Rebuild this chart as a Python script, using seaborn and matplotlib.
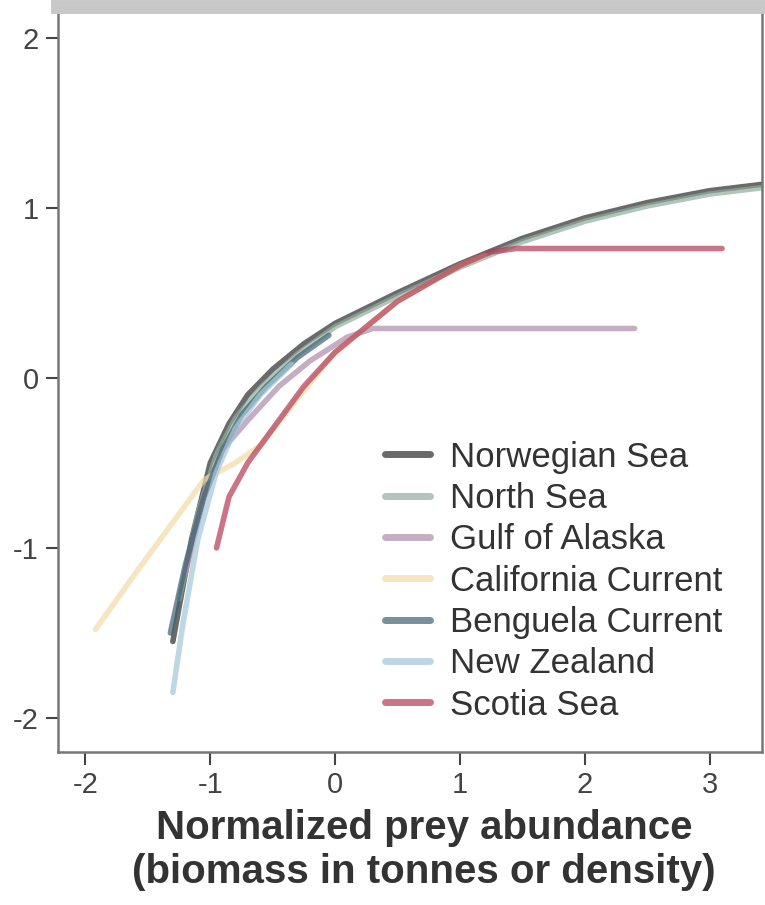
import numpy as np
import pandas as pd
import matplotlib
matplotlib.use("Agg")
import matplotlib.pyplot as plt
import seaborn as sns

sns.set_theme(style="white")
plt.rcParams["font.family"] = ["Liberation Sans", "DejaVu Sans"]
plt.rcParams["axes.unicode_minus"] = False

# Datos
regions = ["Norwegian Sea", "North Sea", "Gulf of Alaska", "California Current",
           "Benguela Current", "New Zealand", "Scotia Sea"]
colors = ["#2b2b2b", "#8fae9e", "#ad8cab", "#f1dba6", "#3f6171", "#a2c6da", "#b23a55"]

norwegian_x = [-1.3, -1.15, -1.0, -0.85, -0.7, -0.5, -0.25, 0.0, 0.5, 1.0, 1.5, 2.0, 2.5, 3.0, 3.45]
norwegian_y = [-1.55, -0.95, -0.5, -0.27, -0.1, 0.05, 0.2, 0.32, 0.5, 0.67, 0.82, 0.94, 1.03, 1.1, 1.14]

northsea_x = [-1.25, -1.1, -0.95, -0.8, -0.6, -0.3, 0.0, 0.5, 1.0, 1.5, 2.0, 2.5, 3.0, 3.45]
northsea_y = [-1.3, -0.8, -0.45, -0.24, -0.06, 0.14, 0.3, 0.48, 0.65, 0.8, 0.92, 1.01, 1.08, 1.12]

alaska_x = [-1.2, -1.05, -0.9, -0.7, -0.45, -0.2, 0.1, 0.3, 1.0, 2.0, 2.4]
alaska_y = [-1.15, -0.7, -0.42, -0.25, -0.05, 0.1, 0.24, 0.29, 0.29, 0.29, 0.29]

california_x = [-1.92, -1.6, -1.3, -1.05, -0.8, -0.6, -0.3, 0.0, 0.5, 1.0, 1.2]
california_y = [-1.48, -1.15, -0.85, -0.6, -0.5, -0.4, -0.12, 0.15, 0.45, 0.66, 0.72]

benguela_x = [-1.32, -1.2, -1.05, -0.9, -0.75, -0.55, -0.3, -0.05]
benguela_y = [-1.5, -1.1, -0.7, -0.42, -0.22, -0.05, 0.12, 0.25]

nz_x = [-1.3, -1.22, -1.1, -0.95, -0.8, -0.6, -0.35]
nz_y = [-1.85, -1.45, -0.95, -0.55, -0.3, -0.1, 0.08]

scotia_x = [-0.95, -0.85, -0.7, -0.5, -0.25, 0.0, 0.5, 1.0, 1.25, 1.45, 2.0, 3.1]
scotia_y = [-1.0, -0.7, -0.5, -0.3, -0.05, 0.15, 0.45, 0.66, 0.74, 0.76, 0.76, 0.76]

xs = [norwegian_x, northsea_x, alaska_x, california_x, benguela_x, nz_x, scotia_x]
ys = [norwegian_y, northsea_y, alaska_y, california_y, benguela_y, nz_y, scotia_y]

# Data frame largo
frames = []
for name, x, y in zip(regions, xs, ys):
    frames.append(pd.DataFrame({"x": x, "y": y, "region": name}))
df = pd.concat(frames, ignore_index=True)

fig = plt.figure(figsize=(7.65, 9.05), dpi=100)
ax = fig.add_axes([58 / 765, 153 / 905, 704 / 765, 745 / 905])

sns.lineplot(data=df, x="x", y="y", hue="region", hue_order=regions,
             palette=dict(zip(regions, colors)), sort=False, estimator=None,
             linewidth=4, alpha=0.7, ax=ax)

ax.set_xlim(-2.22, 3.42)
ax.set_ylim(-2.2, 2.18)
ax.set_xticks([-2, -1, 0, 1, 2, 3])
ax.set_yticks([-2, -1, 0, 1, 2])
ax.tick_params(axis="both", labelsize=21, colors="#444444", length=9, width=1.5,
               direction="out", bottom=True, left=True, pad=5)
ax.set_xlabel("Normalized prey abundance\n(biomass in tonnes or density)",
              fontsize=29, fontweight="bold", color="#333333", linespacing=1.22)
ax.xaxis.set_label_coords(0.52, -0.076, transform=ax.transAxes)
ax.xaxis.label.set_verticalalignment("top")
ax.set_ylabel("")
for side in ["left", "bottom", "right"]:
    ax.spines[side].set_color("#777777")
    ax.spines[side].set_linewidth(1.8)
ax.spines["top"].set_color("#c8c8c8")
ax.spines["top"].set_linewidth(10)

leg = ax.legend(loc="upper left", bbox_to_anchor=(0.465, 0.418), frameon=False,
                fontsize=25, handlelength=1.3, handletextpad=0.55, labelspacing=0.24,
                borderaxespad=0, borderpad=0)
for line in leg.get_lines():
    line.set_linewidth(5)
for text in leg.get_texts():
    text.set_color("#333333")

fig.savefig("out.png", dpi=100)
